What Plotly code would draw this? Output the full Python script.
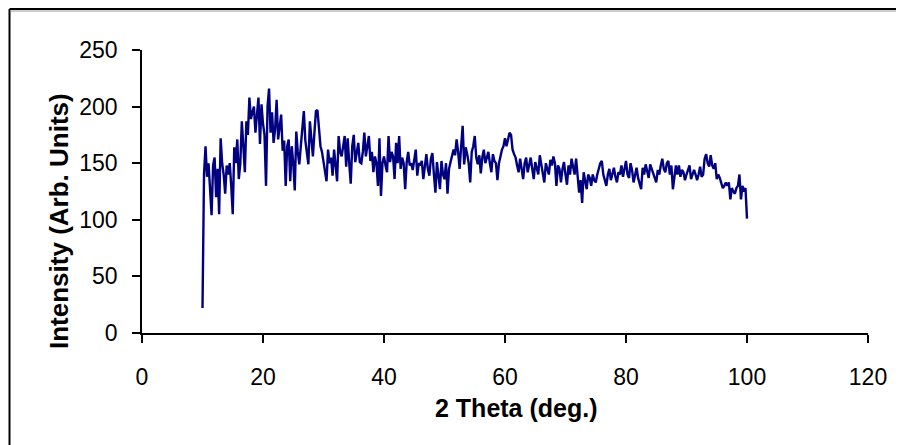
import numpy as np
import plotly.graph_objects as go

# Intensity readings, 0.25 deg steps
intensity_10_40 = [
    22, 140, 165, 138, 150, 128, 104, 148, 155, 120, 145, 105,
    172, 150, 140, 123, 148, 140, 150, 130, 105, 164, 150, 171,
    136, 150, 187, 165, 142, 187, 175, 208, 189, 195, 200, 177,
    190, 208, 167, 202, 185, 175, 130, 200, 216, 177, 195, 168,
    180, 206, 171, 185, 193, 161, 170, 130, 165, 171, 134, 165,
    150, 126, 178, 160, 149, 165, 180, 196, 170, 160, 149, 187,
    168, 156, 177, 196, 197, 177, 165, 160, 151, 140, 134, 162,
    150, 155, 139, 162, 148, 134, 174, 160, 156, 165, 174, 147,
    172, 150, 132, 165, 175, 151, 160, 168, 151, 150, 160, 177,
    156, 165, 174, 152, 160, 142, 156, 150, 130, 172, 121, 150,
]
intensity_40_70 = [
    156, 148, 142, 174, 151, 160, 156, 136, 168, 150, 174, 145,
    155, 150, 127, 151, 160, 148, 150, 144, 155, 162, 139, 150,
    148, 152, 136, 150, 158, 145, 139, 154, 159, 140, 124, 151,
    140, 127, 152, 140, 136, 150, 123, 145, 151, 158, 162, 157,
    171, 160, 145, 165, 183, 149, 164, 158, 150, 133, 160, 165,
    174, 155, 149, 157, 141, 155, 162, 150, 155, 160, 150, 142,
    158, 152, 150, 135, 150, 157, 162, 165, 172, 165, 170, 177,
    175, 162, 158, 155, 148, 142, 154, 145, 136, 150, 155, 142,
    148, 155, 145, 136, 151, 145, 140, 157, 150, 142, 133, 150,
    145, 140, 153, 148, 156, 150, 130, 148, 145, 133, 145, 151,
]
intensity_70_100 = [
    140, 131, 148, 140, 154, 145, 140, 154, 140, 124, 135, 115,
    142, 135, 127, 140, 137, 130, 140, 135, 133, 140, 145, 150,
    152, 140, 135, 130, 140, 145, 135, 142, 146, 138, 133, 142,
    140, 148, 138, 145, 152, 140, 137, 150, 144, 133, 140, 146,
    137, 132, 127, 146, 140, 149, 142, 137, 149, 145, 140, 135,
    133, 144, 140, 148, 154, 145, 142, 150, 152, 140, 148, 127,
    136, 148, 140, 148, 138, 144, 142, 135, 140, 144, 148, 136,
    140, 144, 140, 135, 140, 147, 138, 140, 154, 158, 150, 147,
    157, 148, 145, 150, 136, 140, 137, 133, 128, 130, 133, 130,
    133, 118, 128, 125, 123, 128, 130, 140, 118, 130, 125, 128,
    101,
]
intensity = intensity_10_40 + intensity_40_70 + intensity_70_100
two_theta = np.round(10 + 0.25 * np.arange(len(intensity)), 2)

x_ticks = [0, 20, 40, 60, 80, 100, 120]
y_ticks = [0, 50, 100, 150, 200, 250]

# the page body adds an 8 px offset, so the figure is 8 px smaller
OFF = 8
W, H = 904 - OFF, 445 - OFF
L, T = 142 - OFF, 50 - OFF
pw, ph = 726, 283
R, B = W - L - pw, H - T - ph


def px(xp):
    return (xp - OFF - L) / pw


def py(yp):
    return (T + ph - (yp - OFF)) / ph


fig = go.Figure()
fig.add_trace(go.Scatter(x=two_theta, y=intensity, mode="lines",
                         line=dict(color="#000080", width=2.4),
                         showlegend=False, hoverinfo="skip"))

font = "Liberation Sans, Arial, sans-serif"
fig.update_layout(
    width=W, height=H,
    margin=dict(l=L, r=R, t=T, b=B),
    paper_bgcolor="white", plot_bgcolor="white",
    font=dict(family=font, size=23, color="black"),
    xaxis=dict(range=[0, 120], tickvals=x_ticks, showgrid=False, zeroline=False,
               showline=True, linecolor="black", linewidth=1.5,
               ticks="outside", ticklen=8, tickcolor="black", tickwidth=1.5,
               ticklabelstandoff=15, tickfont=dict(size=23)),
    yaxis=dict(range=[0, 250], tickvals=y_ticks, showgrid=False, zeroline=False,
               showline=True, linecolor="black", linewidth=1.5,
               ticks="outside", ticklen=8, tickcolor="black", tickwidth=1.5,
               ticklabelstandoff=10, tickfont=dict(size=23)),
    annotations=[
        dict(text="<b>2 Theta (deg.)</b>", xref="paper", yref="paper",
             x=px(516), y=py(408), showarrow=False, font=dict(size=25),
             xanchor="center", yanchor="middle"),
        dict(text="<b>Intensity (Arb. Units)</b>", xref="paper", yref="paper",
             x=px(59), y=py(221), showarrow=False, font=dict(size=26),
             textangle=-90, xanchor="center", yanchor="middle"),
    ],
)

shapes = [
    dict(type="line", xref="paper", yref="paper",
         x0=px(9.5), x1=px(9.5), y0=py(445), y1=py(9),
         line=dict(color="black", width=2)),
    dict(type="line", xref="paper", yref="paper",
         x0=px(9.5), x1=px(904), y0=py(9), y1=py(9),
         line=dict(color="black", width=2)),
    dict(type="line", xref="paper", yref="paper",
         x0=px(11), x1=px(904), y0=py(11), y1=py(11),
         line=dict(color="#9a9a9a", width=1)),
]
fig.update_layout(shapes=shapes)

fig.write_html("out.html")
